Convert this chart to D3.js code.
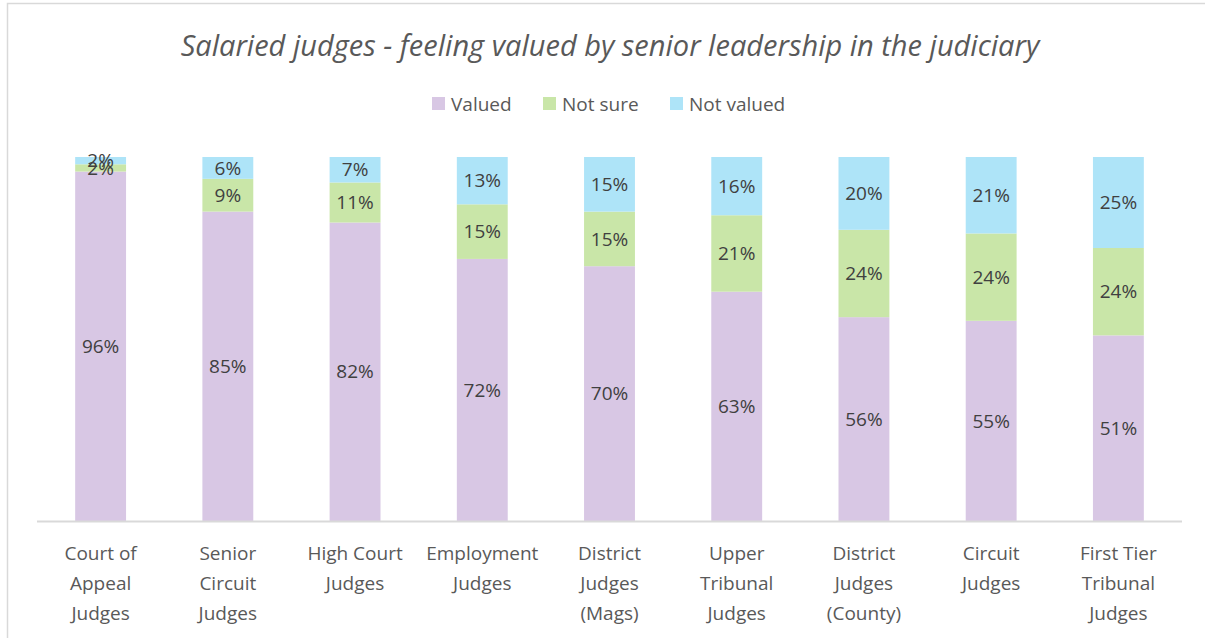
<!DOCTYPE html>
<html>
<head>
<meta charset="utf-8">
<script src="https://cdn.jsdelivr.net/npm/d3@7"></script>
<style>
  html, body { margin: 0; padding: 0; background: #fff; }
  svg text { font-family: "Open Sans", Lato, sans-serif; }
</style>
</head>
<body>
<svg id="chart" width="1205" height="638"></svg>
<script>
// chart values
var categories = ["Court of\nAppeal\nJudges", "Senior\nCircuit\nJudges", "High Court\nJudges",
  "Employment\nJudges", "District\nJudges\n(Mags)", "Upper\nTribunal\nJudges",
  "District\nJudges\n(County)", "Circuit\nJudges", "First Tier\nTribunal\nJudges"];
var valued    = [96, 85, 82, 72, 70, 63, 56, 55, 51];
var notSure   = [2, 9, 11, 15, 15, 21, 24, 24, 24];
var notValued = [2, 6, 7, 13, 15, 16, 20, 21, 25];
var seriesNames = ["Valued", "Not sure", "Not valued"];
var colors = ["#d8c7e4", "#c9e6a8", "#aee4f8"];

var svg = d3.select("#chart");

// outer frame (only top and left visible in the crop)
svg.append("path")
  .attr("d", "M7.5,638 V3.5 H1205")
  .attr("fill", "none")
  .attr("stroke", "#d9d9d9")
  .attr("stroke-width", 1.5);

var plotL = 37, plotR = 1182, plotT = 157, plotB = 521;

var x = d3.scaleBand().domain(d3.range(categories.length))
  .range([plotL, plotR]).paddingInner(0.6).paddingOuter(0.3);
var y = d3.scaleLinear().domain([0, 100]).range([plotB, plotT]);

var rows = categories.map(function (c, i) {
  return { i: i, "Valued": valued[i], "Not sure": notSure[i], "Not valued": notValued[i] };
});
var stacked = d3.stack().keys(seriesNames)(rows);

var g = svg.append("g");
stacked.forEach(function (layer, k) {
  g.append("g").selectAll("rect").data(layer).enter().append("rect")
    .attr("x", function (d) { return x(d.data.i); })
    .attr("width", x.bandwidth())
    .attr("y", function (d) { return y(d[1]); })
    .attr("height", function (d) { return y(d[0]) - y(d[1]); })
    .attr("fill", colors[k]);
});

// axis line
svg.append("line")
  .attr("x1", plotL).attr("x2", plotR)
  .attr("y1", plotB + 0.5).attr("y2", plotB + 0.5)
  .attr("stroke", "#d9d9d9").attr("stroke-width", 2);

// data labels
stacked.forEach(function (layer) {
  g.append("g").selectAll("text").data(layer).enter().append("text")
    .attr("x", function (d) { return x(d.data.i) + x.bandwidth() / 2; })
    .attr("y", function (d) { return (y(d[0]) + y(d[1])) / 2; })
    .attr("dy", "0.35em")
    .attr("text-anchor", "middle")
    .attr("font-size", 19)
    .attr("fill", "#404040")
    .text(function (d) { return (d[1] - d[0]) + "%"; });
});

// category labels
var cat = svg.append("g").selectAll("text").data(categories).enter().append("text")
  .attr("text-anchor", "middle")
  .attr("font-size", 19)
  .attr("fill", "#595959");
cat.each(function (c, i) {
  var t = d3.select(this);
  c.split("\n").forEach(function (line, j) {
    t.append("tspan")
      .attr("x", x(i) + x.bandwidth() / 2)
      .attr("y", 560 + j * 30)
      .text(line);
  });
});

// title
svg.append("text")
  .attr("x", 610).attr("y", 56)
  .attr("text-anchor", "middle")
  .attr("font-size", 29)
  .attr("font-style", "italic")
  .attr("fill", "#595959")
  .text("Salaried judges - feeling valued by senior leadership in the judiciary");

// legend
var legendX = [432, 543, 670];
var legend = svg.append("g").selectAll("g").data(seriesNames).enter().append("g")
  .attr("transform", function (d, i) { return "translate(" + legendX[i] + ",97)"; });
legend.append("rect").attr("width", 13).attr("height", 13)
  .attr("fill", function (d, i) { return colors[i]; });
legend.append("text")
  .attr("x", 19).attr("y", 14)
  .attr("font-size", 19)
  .attr("fill", "#595959")
  .text(function (d) { return d; });
</script>
</body>
</html>
